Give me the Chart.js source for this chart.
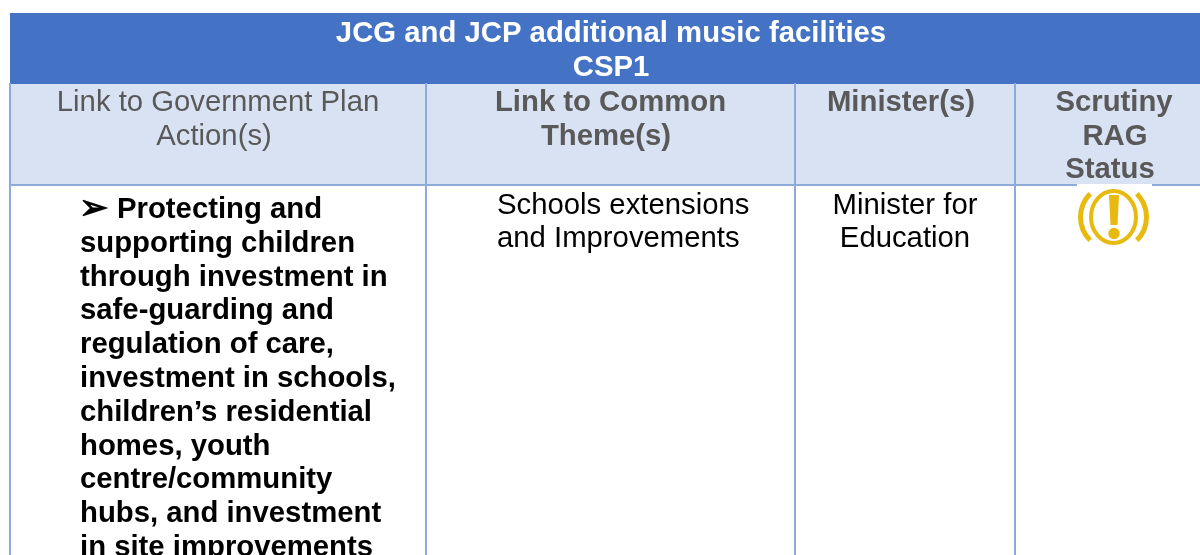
<!DOCTYPE html>
<html>
<head>
<meta charset="utf-8">
<title>JCG and JCP additional music facilities</title>
<script src="https://cdn.jsdelivr.net/npm/chart.js@4/dist/chart.umd.min.js"></script>
<style>
body { margin: 0; background: #fff; }
canvas { display: block; }
</style>
</head>
<body>
<canvas id="myChart" width="1200" height="555"></canvas>
<script>
var columnEdges = [10, 426, 795, 1015, 1200];
var rowEdges = [13, 84, 185, 555];

var titleLines = ["JCG and JCP additional music facilities", "CSP1"];
var columnHeaders = [
    ["Link to Government Plan", "Action(s)"],
    ["Link to Common", "Theme(s)"],
    ["Minister(s)"],
    ["Scrutiny", "RAG", "Status"]
];
var actionLines = [
    "supporting children",
    "through investment in",
    "safe-guarding and",
    "regulation of care,",
    "investment in schools,",
    "children\u2019s residential",
    "homes, youth",
    "centre/community",
    "hubs, and investment",
    "in site improvements"
];
var actionFirstLine = "Protecting and";
var bulletMark = "\u27A2";
var themeLines = ["Schools extensions", "and Improvements"];
var ministerLines = ["Minister for", "Education"];

var BLUE = "#4472C4";
var PALE = "#D9E2F3";
var RULE = "#8EAADB";
var GREY = "#595959";
var GOLD = "#E8B90F";
var FONT = '"Liberation Sans", Arial, sans-serif';
var SIZE = 29.3;
var LEADING = 33.7;

var datasets = [];

// table rules
function rule(x1, y1, x2, y2) {
    datasets.push({
        data: [{ x: x1, y: y1 }, { x: x2, y: y2 }],
        borderColor: RULE,
        borderWidth: 2,
        pointRadius: 0,
        fill: false
    });
}
columnEdges.slice(0, 4).forEach(function (x) {
    rule(x, rowEdges[1] - 1, x, rowEdges[3]);
});
rule(columnEdges[0], rowEdges[2], columnEdges[4], rowEdges[2]);

// title band and header band
function band(top, bottom, colour) {
    datasets.push({
        data: [{ x: columnEdges[0], y: top }, { x: columnEdges[4], y: top }],
        borderWidth: 0,
        borderColor: colour,
        backgroundColor: colour,
        pointRadius: 0,
        fill: { value: bottom }
    });
}
band(rowEdges[0], rowEdges[1], BLUE);
band(rowEdges[1], rowEdges[2], PALE);

// table text and the status icon go on top of the datasets
var tableText = {
    id: "tableText",
    afterDatasetsDraw: function (chart) {
        var ctx = chart.ctx;
        var sx = chart.scales.x;
        var sy = chart.scales.y;

        function put(lines, x, y, colour, weight, align, step, size) {
            ctx.font = weight + " " + (size || SIZE) + "px " + FONT;
            ctx.fillStyle = colour;
            ctx.textAlign = align;
            ctx.textBaseline = "alphabetic";
            lines.forEach(function (line, i) {
                var at = Array.isArray(x) ? x[i] : x;
                ctx.fillText(line, sx.getPixelForValue(at), sy.getPixelForValue(y + i * (step || LEADING)));
            });
        }

        ctx.save();
        put(titleLines, 611, 42, "#fff", "bold", "center");
        put(columnHeaders[0], [218, 214], 111, GREY, "normal", "center");
        put(columnHeaders[1], [610.5, 606], 111, GREY, "bold", "center");
        put(columnHeaders[2], 901, 111, GREY, "bold", "center");
        put(columnHeaders[3], [1114, 1115, 1110], 111, GREY, "bold", "center");

        put([bulletMark], 79, 219, "#000", "bold", "left", 0, 35);
        put([actionFirstLine], 117, 218, "#000", "bold", "left");
        put(actionLines, 80, 218 + 33.8, "#000", "bold", "left", 33.8);
        put(themeLines, 497, 214, "#000", "normal", "left", 33);
        put(ministerLines, 905, 214, "#000", "normal", "center", 33);

        // white patch of the pasted icon over the rule
        ctx.fillStyle = "#fff";
        ctx.fillRect(sx.getPixelForValue(1077), sy.getPixelForValue(184), 75, 3);

        var cx = sx.getPixelForValue(1113.5);
        var cy = sy.getPixelForValue(217);
        var q = Math.PI / 4;
        ctx.strokeStyle = GOLD;
        ctx.fillStyle = GOLD;
        ctx.lineWidth = 4;
        ctx.beginPath();
        ctx.ellipse(cx, cy, 22.5, 26, 0, 0, Math.PI * 2);
        ctx.stroke();
        ctx.lineWidth = 5;
        ctx.beginPath();
        ctx.arc(cx, cy, 33, Math.PI - q, Math.PI + q);
        ctx.stroke();
        ctx.beginPath();
        ctx.arc(cx, cy, 33, -q, q);
        ctx.stroke();
        ctx.beginPath();
        ctx.moveTo(cx - 4.5, cy - 22);
        ctx.lineTo(cx + 5.5, cy - 22);
        ctx.lineTo(cx + 4, cy + 8);
        ctx.lineTo(cx - 3, cy + 8);
        ctx.closePath();
        ctx.fill();
        ctx.beginPath();
        ctx.arc(cx + 0.5, cy + 16.5, 5.7, 0, Math.PI * 2);
        ctx.fill();
        ctx.restore();
    }
};

var ctx = document.getElementById("myChart").getContext("2d");
var myChart = new Chart(ctx, {
    type: "scatter",
    data: { datasets: datasets },
    options: {
        responsive: false,
        animation: false,
        showLine: true,
        layout: { padding: 0 },
        plugins: { legend: { display: false }, tooltip: { enabled: false } },
        scales: {
            x: { type: "linear", min: 0, max: 1200, display: false },
            y: { type: "linear", min: 0, max: 555, reverse: true, display: false }
        }
    },
    plugins: [tableText]
});
</script>
</body>
</html>
